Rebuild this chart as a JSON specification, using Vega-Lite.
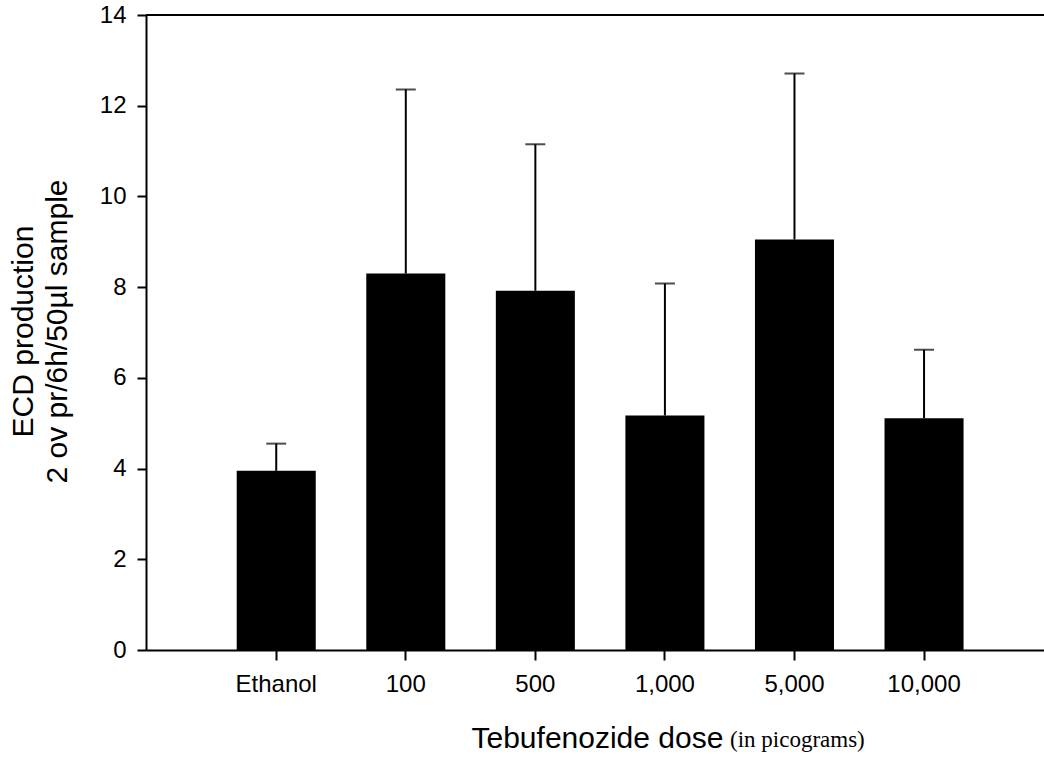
{
  "$schema": "https://vega.github.io/schema/vega-lite/v6.json",
  "autosize": {"type": "none"},
  "width": 898,
  "height": 635,
  "padding": {"left": 146, "top": 15, "right": 0, "bottom": 107},
  "background": "white",
  "config": {
    "view": {"stroke": null},
    "font": "Liberation Sans",
    "axis": {"labelColor": "#000", "titleColor": "#000", "domainColor": "#000", "tickColor": "#000", "domainWidth": 2, "tickWidth": 2, "grid": false, "labelFont": "Liberation Sans", "titleFont": "Liberation Sans", "titleFontWeight": "normal"}
  },
  "title": {
    "text": "(in picograms)",
    "orient": "bottom",
    "anchor": "start",
    "frame": "group",
    "font": "Liberation Serif",
    "fontSize": 23,
    "fontWeight": "normal",
    "color": "#000",
    "baseline": "alphabetic",
    "offset": 0,
    "dx": 584,
    "dy": -6
  },
  "data": {
    "values": [
      {"dose": "Ethanol", "mean": 3.95, "upper": 4.55},
      {"dose": "100", "mean": 8.3, "upper": 12.36},
      {"dose": "500", "mean": 7.92, "upper": 11.15},
      {"dose": "1,000", "mean": 5.17, "upper": 8.08},
      {"dose": "5,000", "mean": 9.05, "upper": 12.71},
      {"dose": "10,000", "mean": 5.11, "upper": 6.62}
    ]
  },
  "encoding": {
    "x": {
      "field": "dose",
      "type": "nominal",
      "sort": null,
      "scale": {"paddingInner": 0.39, "paddingOuter": 0.6605, "align": 0.53},
      "axis": {
        "title": "Tebufenozide dose",
        "titleFontSize": 30,
        "titleAlign": "left",
        "titleAnchor": "start",
        "titleBaseline": "alphabetic",
        "titleX": 325,
        "titleY": 97,
        "labelAngle": 0,
        "labelFontSize": 24,
        "labelPadding": 12,
        "tickSize": 10
      }
    }
  },
  "layer": [
    {
      "mark": {"type": "bar", "color": "#000"},
      "encoding": {
        "y": {
          "field": "mean",
          "type": "quantitative",
          "scale": {"domain": [0, 14], "nice": false},
          "axis": {
            "title": ["ECD production", "2 ov pr/6h/50µl sample"],
            "titleFontSize": 30,
            "titleLineHeight": 34,
            "titleAngle": -90,
            "titleAlign": "center",
            "titleBaseline": "middle",
            "titleX": -123,
            "titleY": 316,
            "values": [0, 2, 4, 6, 8, 10, 12, 14],
            "labelFontSize": 24,
            "labelPadding": 11,
            "tickSize": 9
          }
        }
      }
    },
    {
      "mark": {"type": "rule", "color": "#000", "strokeWidth": 2},
      "encoding": {
        "y": {"field": "mean", "type": "quantitative"},
        "y2": {"field": "upper"}
      }
    },
    {
      "mark": {"type": "tick", "color": "#000", "thickness": 2, "size": 20},
      "encoding": {
        "y": {"field": "upper", "type": "quantitative"}
      }
    },
    {
      "mark": {"type": "rule", "color": "#000", "strokeWidth": 2},
      "encoding": {
        "y": {"datum": 14, "type": "quantitative"},
        "x": null
      }
    }
  ]
}
